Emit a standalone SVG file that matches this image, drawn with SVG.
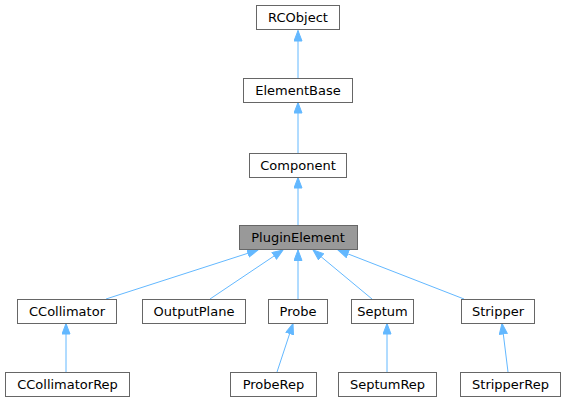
<svg xmlns="http://www.w3.org/2000/svg" width="565" height="403" viewBox="0 0 565 403">
<style>
.n rect{fill:#ffffff;stroke:#666666;stroke-width:1}
.n.hl rect{fill:#999999}
.n text{font-family:"DejaVu Sans",sans-serif;font-size:13px;fill:#000000;text-anchor:middle}
.e path{fill:none;stroke:#63b8ff;stroke-width:1;marker-end:url(#arr)}
</style>
<defs>
<marker id="arr" markerUnits="userSpaceOnUse" markerWidth="13" markerHeight="11" refX="11" refY="4.5" orient="auto">
<path d="M0.5,0.5 L11,4.5 L0.5,8.5 z" fill="#63b8ff" stroke="#63b8ff" stroke-width="1"/>
</marker>
</defs>
<g id="edges" class="e">
<path d="M298,78 L298,30.5"/>
<path d="M298,153 L298,102.5"/>
<path d="M298,225 L298,177.5"/>
<path d="M106,299 L258,250"/>
<path d="M210,299 L283,250"/>
<path d="M298,299 L298,250"/>
<path d="M372,299 L313,250"/>
<path d="M464,299 L338,250"/>
<path d="M66,372 L66,323.5"/>
<path d="M277,372 L293,323.5"/>
<path d="M387,372 L387,323.5"/>
<path d="M508,372 L502,323.5"/>
</g>
<g id="RCObject" class="n"><rect x="256.5" y="5.5" width="83" height="24"/><text x="298" y="22">RCObject</text></g>
<g id="ElementBase" class="n"><rect x="243.5" y="78.5" width="109" height="24"/><text x="298" y="95">ElementBase</text></g>
<g id="Component" class="n"><rect x="249.5" y="153.5" width="97" height="24"/><text x="298" y="170">Component</text></g>
<g id="PluginElement" class="n hl"><rect x="239.5" y="225.5" width="118" height="24"/><text x="298" y="242">PluginElement</text></g>
<g id="CCollimator" class="n"><rect x="17.5" y="299.5" width="99" height="24"/><text x="67" y="316">CCollimator</text></g>
<g id="OutputPlane" class="n"><rect x="142.5" y="299.5" width="103" height="24"/><text x="194" y="316">OutputPlane</text></g>
<g id="Probe" class="n"><rect x="268.5" y="299.5" width="59" height="24"/><text x="298" y="316">Probe</text></g>
<g id="Septum" class="n"><rect x="351.5" y="299.5" width="62" height="24"/><text x="382.5" y="316">Septum</text></g>
<g id="Stripper" class="n"><rect x="461.5" y="299.5" width="73" height="24"/><text x="498" y="316">Stripper</text></g>
<g id="CCollimatorRep" class="n"><rect x="5.5" y="372.5" width="124" height="24"/><text x="67.5" y="389">CCollimatorRep</text></g>
<g id="ProbeRep" class="n"><rect x="230.5" y="372.5" width="86" height="24"/><text x="273.5" y="389">ProbeRep</text></g>
<g id="SeptumRep" class="n"><rect x="338.5" y="372.5" width="98" height="24"/><text x="387.5" y="389">SeptumRep</text></g>
<g id="StripperRep" class="n"><rect x="460.5" y="372.5" width="100" height="24"/><text x="510.5" y="389">StripperRep</text></g>
</svg>
